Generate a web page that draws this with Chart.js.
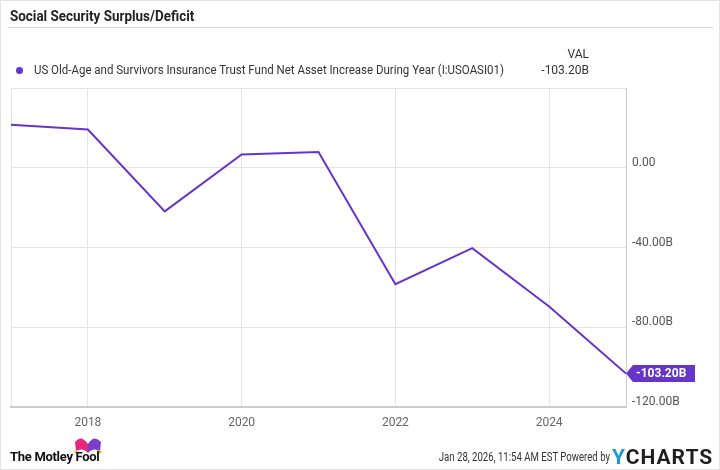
<!DOCTYPE html>
<html>
<head>
<meta charset="utf-8">
<script src="https://cdn.jsdelivr.net/npm/chart.js@4.4.1/dist/chart.umd.min.js"></script>
<style>
    html, body { margin: 0; padding: 0; background: #fff; }
    #wrap { position: relative; width: 718px; height: 468px; border: 1px solid #e3e3e3; overflow: hidden; font-family: Roboto, Arial, sans-serif; }
    #chart { position: absolute; left: -1px; top: -1px; }
    .title { position: absolute; left: 9px; top: 7px; font-size: 14px; font-weight: 700; color: #222; transform: scaleX(0.96); transform-origin: left center; }
    .rule { position: absolute; left: 7px; right: 6px; top: 26px; height: 1px; background: #d5d5d5; }
    .dot { position: absolute; left: 15px; top: 66px; width: 7px; height: 7px; border-radius: 50%; background: #6535c9; }
    .legend { position: absolute; left: 33px; top: 62px; font-size: 12px; color: #333; white-space: nowrap; transform: scaleX(0.957); transform-origin: left center; }
    .valhead { position: absolute; right: 130px; top: 46px; font-size: 12px; color: #333; }
    .val { position: absolute; right: 130px; top: 62px; font-size: 12px; color: #333; }
    .fool { position: absolute; left: 9px; top: 448px; font-size: 13px; font-weight: 700; color: #111; letter-spacing: -0.3px; }
    .hat { position: absolute; left: 71px; top: 435px; }
    .stamp { position: absolute; right: 109px; top: 449px; font-size: 12px; color: #333; white-space: nowrap; transform: scaleX(0.8); transform-origin: right center; }
    .yc { position: absolute; left: 611px; top: 444px; font-size: 21px; font-weight: 700; color: #1f1f1f; letter-spacing: 1px; }
    .yc span { color: #1e9ad6; }
</style>
</head>
<body>
<div id="wrap">
    <canvas id="chart" width="720" height="470"></canvas>
    <div class="title">Social Security Surplus/Deficit</div>
    <div class="rule"></div>
    <div class="valhead">VAL</div>
    <div class="dot"></div>
    <div class="legend">US Old-Age and Survivors Insurance Trust Fund Net Asset Increase During Year (I:USOASI01)</div>
    <div class="val">-103.20B</div>
    <svg class="hat" width="32" height="20" viewBox="0 0 32 20">
        <path d="M3 6 Q9 -2 16 8 L16 17 Q11 11 4 15 Z" fill="#e5287d"/>
        <path d="M16 8 Q22 -2 29 6 L28 15 Q21 11 16 17 Z" fill="#7a3fc6"/>
        <circle cx="4" cy="16" r="1.5" fill="#f4b400"/>
        <circle cx="28" cy="16" r="1.5" fill="#f4b400"/>
    </svg>
    <div class="fool">The Motley Fool</div>
    <div class="stamp">Jan 28, 2026, 11:54 AM EST Powered by</div>
    <div class="yc"><span>Y</span>CHARTS</div>
</div>
<script>
// yearly net asset change, billions
const years = [2017, 2018, 2019, 2020, 2021, 2022, 2023, 2024, 2025];
const netIncrease = [21.6, 19.2, -21.9, 6.7, 7.9, -58.4, -40.3, -69.6, -103.2];
const xTickYears = [2017, 2018, 2020, 2022, 2024];
const yTicks = [-120, -80, -40, 0, 40];

const purple = '#6535c9';

function fmtB(v) {
    if (v === 0) return '0.00';
    return v.toFixed(2) + 'B';
}

const lastTag = {
    id: 'lastTag',
    afterDraw(chart) {
        const meta = chart.getDatasetMeta(0);
        const pt = meta.data[meta.data.length - 1];
        const ctx = chart.ctx;
        const x = chart.chartArea.right, y = pt.y;
        ctx.save();
        ctx.fillStyle = purple;
        ctx.beginPath();
        ctx.moveTo(x, y);
        ctx.lineTo(x + 7, y - 8.5);
        ctx.lineTo(x + 69, y - 8.5);
        ctx.lineTo(x + 69, y + 8.5);
        ctx.lineTo(x + 7, y + 8.5);
        ctx.closePath();
        ctx.fill();
        ctx.fillStyle = '#fff';
        ctx.font = 'bold 12px Roboto';
        ctx.textBaseline = 'middle';
        ctx.fillText(fmtB(netIncrease[netIncrease.length - 1]), x + 10, y + 0.5);
        ctx.restore();
    }
};

new Chart(document.getElementById('chart'), {
    type: 'line',
    data: {
        datasets: [{
            data: years.map((yr, i) => ({ x: yr, y: netIncrease[i] })),
            borderColor: purple,
            borderWidth: 2,
            pointRadius: 0,
            tension: 0,
            fill: false
        }]
    },
    options: {
        responsive: false,
        animation: false,
        layout: { padding: { top: 88, left: 11, right: 0, bottom: 0 } },
        plugins: { legend: { display: false }, tooltip: { enabled: false } },
        scales: {
            x: {
                type: 'linear',
                min: 2017,
                max: 2025,
                afterBuildTicks: s => { s.ticks = xTickYears.map(v => ({ value: v })); },
                afterFit: s => { s.height = 63; },
                grid: { color: '#e4e4e4', drawTicks: false },
                border: { color: '#cccccc', width: 2 },
                ticks: {
                    padding: 9,
                    color: '#666',
                    font: { family: 'Roboto', size: 12 },
                    maxRotation: 0,
                    callback: v => (v % 2 === 0 ? String(v) : '')
                }
            },
            y: {
                position: 'right',
                min: -120,
                max: 40,
                afterBuildTicks: s => { s.ticks = yTicks.map(v => ({ value: v })); },
                afterFit: s => { s.width = 94; },
                grid: { color: '#e4e4e4', drawTicks: false },
                border: { color: '#cccccc', width: 1 },
                ticks: {
                    padding: 6,
                    labelOffset: -5,
                    color: '#555',
                    font: { family: 'Roboto', size: 12 },
                    callback: v => (v === 40 ? '' : fmtB(v))
                }
            }
        }
    },
    plugins: [lastTag]
});
</script>
</body>
</html>
